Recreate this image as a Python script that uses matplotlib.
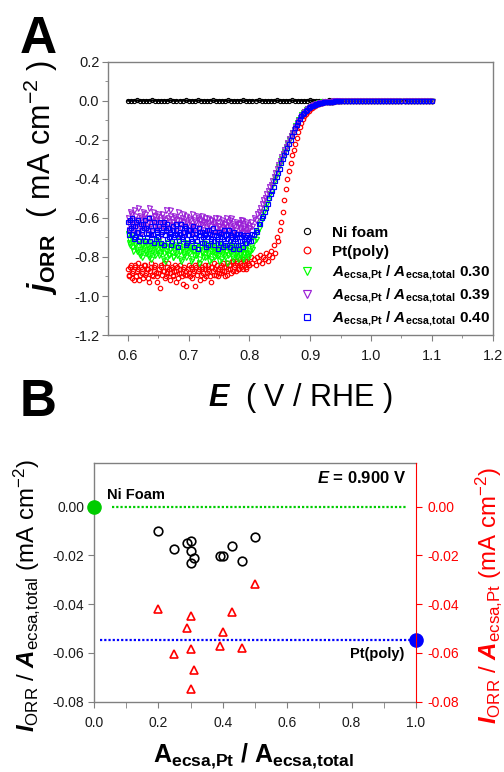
"""
plot.py
-------
ORR polarisation curves (A) and normalised ORR current vs Pt area fraction (B).
"""
import matplotlib
matplotlib.use("Agg")
import matplotlib.pyplot as plt  # noqa: E402
import numpy as np  # noqa: E402
from matplotlib.ticker import MultipleLocator  # noqa: E402

plt.rcParams["font.family"] = ["Liberation Sans", "DejaVu Sans"]
plt.rcParams["mathtext.fontset"] = "custom"
plt.rcParams["mathtext.rm"] = "Liberation Sans"
plt.rcParams["mathtext.it"] = "Liberation Sans:italic"
plt.rcParams["mathtext.bf"] = "Liberation Sans:bold"
plt.rcParams["mathtext.bfit"] = "Liberation Sans:italic:bold"

# ── Panel A data ─────────────────────────────────────────────────────────────
# sweep grids: 2.5 mV steps up to 0.9475 V, 5 mV on the flat part;
# the noisy plateau was recorded twice (second scan offset by 1.25 mV)
E_LOW = np.round(np.arange(0.600, 0.7999, 0.0025), 4)    # 80 pts
E_LOW2 = np.round(E_LOW + 0.00125, 5)                     # 80 pts
E_RISE = np.round(np.arange(0.800, 0.9499, 0.0025), 4)   # 60 pts
E_FLAT = np.round(np.arange(0.950, 1.1001, 0.005), 3)    # 31 pts
E_NI = np.round(np.arange(0.600, 1.1001, 0.005), 3)      # 101 pts

ni_j = [0.001, 0.000, 0.001, 0.002, 0.000, 0.001, 0.000, 0.001, 0.002, 0.001,
        0.000, 0.001, 0.001, 0.000, 0.002, 0.001, 0.000, 0.001, 0.001, 0.002,
        0.000, 0.001, 0.000, 0.002, 0.001, 0.001, 0.000, 0.001, 0.002, 0.000,
        0.001, 0.001, 0.000, 0.002, 0.001, 0.000, 0.001, 0.001, 0.002, 0.000,
        0.001, 0.000, 0.001, 0.002, 0.001, 0.000, 0.001, 0.001, 0.000, 0.002,
        0.001, 0.000, 0.001, 0.001, 0.002, 0.000, 0.001, 0.001, 0.000, 0.001,
        0.002, 0.001, 0.000, 0.001, 0.001, 0.000, 0.002, 0.001, 0.001, 0.000,
        0.001, 0.000, 0.001, 0.001, 0.000, 0.001, 0.001, 0.000, 0.001, 0.000,
        0.001, 0.000, 0.001, 0.000, 0.001, 0.000, 0.000, 0.001, 0.000, 0.001,
        0.000, 0.001, 0.000, 0.000, 0.001, 0.000, 0.001, 0.000, 0.000, 0.001,
        0.000]

pt_low = [-0.86, -0.90, -0.84, -0.88, -0.92, -0.85, -0.87, -0.83, -0.89, -0.86,
          -0.91, -0.84, -0.88, -0.86, -0.93, -0.85, -0.89, -0.87, -0.84, -0.90,
          -0.88, -0.96, -0.85, -0.87, -0.83, -0.90, -0.88, -0.86, -0.92, -0.85,
          -0.89, -0.84, -0.87, -0.91, -0.86, -0.88, -0.94, -0.85, -0.87, -0.89,
          -0.84, -0.90, -0.86, -0.88, -0.95, -0.85, -0.87, -0.83, -0.89, -0.86,
          -0.91, -0.84, -0.88, -0.86, -0.90, -0.85, -0.87, -0.83, -0.89, -0.86,
          -0.88, -0.84, -0.87, -0.85, -0.90, -0.83, -0.86, -0.84, -0.88, -0.82,
          -0.85, -0.87, -0.83, -0.86, -0.81, -0.84, -0.86, -0.82, -0.85, -0.83]
pt_low2 = [-0.89, -0.85, -0.91, -0.87, -0.84, -0.90, -0.86, -0.92, -0.85, -0.88,
           -0.84, -0.89, -0.86, -0.91, -0.87, -0.83, -0.90, -0.85, -0.88, -0.93,
           -0.86, -0.84, -0.89, -0.87, -0.91, -0.85, -0.83, -0.88, -0.86, -0.90,
           -0.87, -0.93, -0.85, -0.88, -0.84, -0.90, -0.86, -0.89, -0.95, -0.86,
           -0.88, -0.85, -0.91, -0.87, -0.84, -0.89, -0.86, -0.92, -0.85, -0.88,
           -0.86, -0.90, -0.84, -0.87, -0.93, -0.85, -0.89, -0.86, -0.84, -0.90,
           -0.85, -0.88, -0.83, -0.87, -0.85, -0.89, -0.84, -0.86, -0.82, -0.87,
           -0.84, -0.82, -0.86, -0.83, -0.85, -0.81, -0.84, -0.86, -0.82, -0.84]
pt_rise = [-0.84, -0.80, -0.83, -0.81, -0.84, -0.80, -0.82, -0.79, -0.83, -0.80,
           -0.81, -0.78, -0.82, -0.79, -0.77, -0.80, -0.74, -0.78, -0.70, -0.72,
           -0.66, -0.62, -0.57, -0.51, -0.45, -0.40, -0.36, -0.32, -0.28, -0.25,
           -0.22, -0.19, -0.16, -0.135, -0.115, -0.095, -0.08, -0.067, -0.057, -0.05,
           -0.043, -0.036, -0.030, -0.025, -0.021, -0.017, -0.014, -0.012, -0.010, -0.008,
           -0.007, -0.006, -0.005, -0.005, -0.004, -0.004, -0.003, -0.003, -0.002, -0.002]

r30_low = [-0.68, -0.73, -0.70, -0.75, -0.71, -0.74, -0.77, -0.72, -0.79, -0.74,
           -0.76, -0.72, -0.78, -0.75, -0.80, -0.73, -0.77, -0.74, -0.79, -0.76,
           -0.72, -0.78, -0.75, -0.81, -0.74, -0.77, -0.73, -0.79, -0.76, -0.75,
           -0.80, -0.74, -0.78, -0.72, -0.77, -0.82, -0.75, -0.79, -0.76, -0.73,
           -0.78, -0.75, -0.81, -0.77, -0.74, -0.79, -0.76, -0.83, -0.75, -0.78,
           -0.73, -0.80, -0.76, -0.78, -0.74, -0.81, -0.77, -0.75, -0.79, -0.76,
           -0.82, -0.74, -0.78, -0.76, -0.80, -0.75, -0.79, -0.77, -0.74, -0.81,
           -0.76, -0.78, -0.80, -0.75, -0.79, -0.77, -0.81, -0.76, -0.78, -0.80]
r30_low2 = [-0.71, -0.74, -0.69, -0.77, -0.73, -0.76, -0.72, -0.78, -0.75, -0.80,
            -0.73, -0.77, -0.74, -0.79, -0.76, -0.81, -0.74, -0.78, -0.75, -0.72,
            -0.79, -0.76, -0.74, -0.78, -0.82, -0.75, -0.79, -0.76, -0.73, -0.80,
            -0.77, -0.75, -0.79, -0.74, -0.81, -0.76, -0.78, -0.73, -0.80, -0.77,
            -0.75, -0.82, -0.76, -0.79, -0.74, -0.78, -0.81, -0.75, -0.77, -0.80,
            -0.76, -0.74, -0.79, -0.82, -0.77, -0.75, -0.80, -0.78, -0.74, -0.79,
            -0.77, -0.81, -0.75, -0.79, -0.77, -0.83, -0.76, -0.78, -0.80, -0.75,
            -0.79, -0.77, -0.81, -0.78, -0.76, -0.80, -0.78, -0.74, -0.79, -0.77]
r30_rise = [-0.78, -0.75, -0.76, -0.72, -0.71, -0.67, -0.65, -0.62, -0.60, -0.57,
            -0.55, -0.53, -0.51, -0.48, -0.46, -0.43, -0.41, -0.39, -0.37, -0.34,
            -0.32, -0.30, -0.28, -0.26, -0.24, -0.22, -0.20, -0.18, -0.165, -0.15,
            -0.13, -0.115, -0.10, -0.088, -0.075, -0.065, -0.056, -0.048, -0.041, -0.035,
            -0.030, -0.026, -0.022, -0.019, -0.016, -0.013, -0.011, -0.010, -0.008, -0.007,
            -0.006, -0.005, -0.005, -0.004, -0.004, -0.003, -0.003, -0.002, -0.002, -0.002]

r39_low = [-0.60, -0.66, -0.58, -0.63, -0.56, -0.65, -0.61, -0.68, -0.59, -0.64,
           -0.57, -0.62, -0.66, -0.60, -0.55, -0.63, -0.67, -0.59, -0.62, -0.65,
           -0.58, -0.61, -0.69, -0.60, -0.64, -0.56, -0.63, -0.66, -0.59, -0.62,
           -0.67, -0.60, -0.64, -0.57, -0.61, -0.65, -0.62, -0.68, -0.59, -0.63,
           -0.66, -0.61, -0.58, -0.64, -0.62, -0.69, -0.60, -0.65, -0.63, -0.59,
           -0.66, -0.62, -0.67, -0.60, -0.64, -0.61, -0.68, -0.63, -0.65, -0.60,
           -0.64, -0.67, -0.61, -0.66, -0.63, -0.69, -0.62, -0.65, -0.60, -0.67,
           -0.64, -0.62, -0.68, -0.63, -0.66, -0.61, -0.65, -0.67, -0.63, -0.66]
r39_low2 = [-0.63, -0.57, -0.61, -0.66, -0.59, -0.62, -0.55, -0.64, -0.60, -0.67,
            -0.61, -0.58, -0.65, -0.62, -0.68, -0.60, -0.57, -0.64, -0.61, -0.59,
            -0.66, -0.63, -0.58, -0.65, -0.61, -0.67, -0.60, -0.56, -0.64, -0.62,
            -0.59, -0.66, -0.61, -0.69, -0.63, -0.60, -0.58, -0.65, -0.62, -0.66,
            -0.60, -0.64, -0.67, -0.61, -0.65, -0.59, -0.63, -0.61, -0.68, -0.62,
            -0.60, -0.65, -0.63, -0.68, -0.61, -0.66, -0.62, -0.60, -0.67, -0.64,
            -0.68, -0.62, -0.65, -0.63, -0.60, -0.66, -0.64, -0.61, -0.68, -0.63,
            -0.66, -0.69, -0.63, -0.65, -0.61, -0.67, -0.64, -0.62, -0.68, -0.65]
r39_rise = [-0.65, -0.62, -0.64, -0.60, -0.61, -0.58, -0.57, -0.55, -0.53, -0.51,
            -0.50, -0.48, -0.46, -0.44, -0.43, -0.41, -0.39, -0.37, -0.35, -0.33,
            -0.31, -0.29, -0.27, -0.25, -0.235, -0.215, -0.195, -0.18, -0.165, -0.15,
            -0.135, -0.12, -0.105, -0.09, -0.078, -0.067, -0.058, -0.05, -0.043, -0.037,
            -0.032, -0.027, -0.023, -0.02, -0.017, -0.014, -0.012, -0.010, -0.009, -0.007,
            -0.006, -0.005, -0.005, -0.004, -0.004, -0.003, -0.003, -0.002, -0.002, -0.002]

r40_low = [-0.62, -0.69, -0.65, -0.60, -0.71, -0.64, -0.67, -0.61, -0.70, -0.66,
           -0.63, -0.72, -0.65, -0.68, -0.60, -0.69, -0.66, -0.73, -0.64, -0.67,
           -0.70, -0.62, -0.68, -0.65, -0.74, -0.66, -0.63, -0.70, -0.67, -0.72,
           -0.64, -0.69, -0.66, -0.75, -0.68, -0.63, -0.71, -0.67, -0.65, -0.73,
           -0.69, -0.66, -0.72, -0.64, -0.70, -0.68, -0.76, -0.65, -0.71, -0.67,
           -0.73, -0.69, -0.66, -0.74, -0.68, -0.71, -0.65, -0.72, -0.69, -0.76,
           -0.67, -0.73, -0.70, -0.66, -0.74, -0.71, -0.68, -0.75, -0.69, -0.72,
           -0.67, -0.74, -0.70, -0.76, -0.68, -0.72, -0.69, -0.73, -0.70, -0.71]
r40_low2 = [-0.66, -0.61, -0.68, -0.64, -0.70, -0.62, -0.67, -0.72, -0.63, -0.68,
            -0.65, -0.61, -0.70, -0.66, -0.72, -0.64, -0.68, -0.62, -0.71, -0.66,
            -0.64, -0.73, -0.67, -0.62, -0.69, -0.71, -0.65, -0.68, -0.74, -0.66,
            -0.70, -0.63, -0.68, -0.72, -0.65, -0.70, -0.67, -0.64, -0.74, -0.69,
            -0.66, -0.71, -0.68, -0.75, -0.66, -0.72, -0.69, -0.67, -0.73, -0.70,
            -0.68, -0.75, -0.70, -0.66, -0.72, -0.69, -0.74, -0.67, -0.71, -0.70,
            -0.73, -0.68, -0.75, -0.71, -0.69, -0.74, -0.66, -0.72, -0.70, -0.76,
            -0.71, -0.68, -0.74, -0.72, -0.70, -0.75, -0.71, -0.73, -0.69, -0.72]
r40_rise = [-0.70, -0.72, -0.68, -0.69, -0.66, -0.67, -0.63, -0.63, -0.60, -0.59,
            -0.57, -0.55, -0.53, -0.50, -0.48, -0.46, -0.44, -0.41, -0.39, -0.37,
            -0.35, -0.32, -0.30, -0.28, -0.26, -0.24, -0.22, -0.20, -0.18, -0.16,
            -0.14, -0.125, -0.11, -0.095, -0.08, -0.07, -0.06, -0.052, -0.045, -0.039,
            -0.034, -0.029, -0.025, -0.021, -0.018, -0.015, -0.013, -0.011, -0.009, -0.008,
            -0.007, -0.006, -0.005, -0.005, -0.004, -0.004, -0.003, -0.003, -0.002, -0.002]

j_flat = [-0.002, -0.002, -0.001, -0.001, -0.001, -0.001, -0.001, 0.000, 0.000, 0.000,
          0.000, 0.000, 0.000, 0.000, 0.000, 0.000, 0.000, 0.000, 0.000, 0.000,
          0.000, 0.000, 0.000, 0.000, 0.000, 0.000, 0.000, 0.000, 0.000, 0.000, 0.001]

# ── Panel B data (E = 0.900 V) ───────────────────────────────────────────────
pt_frac = [0.20, 0.25, 0.29, 0.30, 0.30, 0.31, 0.30, 0.39, 0.40, 0.43, 0.46, 0.50]
i_per_total = [-0.0102, -0.0172, -0.0150, -0.0141, -0.0182, -0.0212, -0.0233,
               -0.0202, -0.0202, -0.0161, -0.0221, -0.0126]
i_per_pt = [-0.0418, -0.0605, -0.0497, -0.0450, -0.0582, -0.0669, -0.0747,
            -0.0572, -0.0513, -0.0434, -0.0579, -0.0318]
ref_frac = [0.0, 1.0]              # Ni foam, Pt(poly)
ref_current = [0.0, -0.0546]

GRAY = "#808080"
INK = "#1a1a1a"
RATIO_LABEL = r"$\mathbfit{A}_{\mathbf{ecsa{,}Pt}}$ / $\mathbfit{A}_{\mathbf{ecsa{,}total}}$ "


def _style_axis(ax, color=GRAY):
    for sp in ax.spines.values():
        sp.set_color(color)
        sp.set_linewidth(1.0)
    ax.tick_params(which="both", direction="out", color=color, labelcolor=INK)


fig = plt.figure(figsize=(5.04, 7.72), dpi=100)

# ── A ────────────────────────────────────────────────────────────────────────
axA = fig.add_axes([0.215, 0.566, 0.7626, 0.354])
E_scan = np.concatenate([E_LOW, E_RISE, E_FLAT])

series = [
    ("Pt(poly)", pt_low, pt_low2, pt_rise, "o", "#ff0000", 3.2),
    (RATIO_LABEL + "0.30", r30_low, r30_low2, r30_rise, "v", "#00ff00", 3.6),
    (RATIO_LABEL + "0.39", r39_low, r39_low2, r39_rise, "v", "#9a1fd6", 3.6),
    (RATIO_LABEL + "0.40", r40_low, r40_low2, r40_rise, "s", "#0000ff", 3.0),
]

handles = []
axA.plot(E_NI, ni_j, ls="-", lw=1.6, color="black", marker=None)
h, = axA.plot(E_NI, ni_j, ls="none", marker="o", ms=3.0, mfc="none",
              mec="black", mew=0.8, label="Ni foam")
handles.append(h)
for label, j_low, j_low2, j_rise, mk, col, ms in series:
    h, = axA.plot(E_scan, j_low + j_rise + j_flat, ls="none", marker=mk, ms=ms,
                  mfc="none", mec=col, mew=0.85, label=label)
    axA.plot(E_LOW2, j_low2, ls="none", marker=mk, ms=ms,
             mfc="none", mec=col, mew=0.85)
    handles.append(h)

axA.set_xlim(0.568, 1.2)
axA.set_ylim(-1.2, 0.2)
axA.xaxis.set_major_locator(MultipleLocator(0.1))
axA.xaxis.set_minor_locator(MultipleLocator(0.05))
axA.yaxis.set_major_locator(MultipleLocator(0.2))
axA.yaxis.set_minor_locator(MultipleLocator(0.1))
axA.set_xticks([0.6, 0.7, 0.8, 0.9, 1.0, 1.1, 1.2])
axA.xaxis.set_major_formatter(plt.FuncFormatter(lambda v, _: f"{v:.1f}"))
axA.yaxis.set_major_formatter(plt.FuncFormatter(lambda v, _: f"{v:.1f}"))
_style_axis(axA)
axA.tick_params(which="major", length=4, labelsize=10.5)
axA.tick_params(which="minor", length=2.5)
axA.tick_params(axis="x", pad=6)
axA.tick_params(axis="y", pad=2.5)

axA.legend(handles=handles, loc="upper left", bbox_to_anchor=(0.497, 0.40),
           frameon=False, markerscale=1.5, handlelength=1.0,
           handletextpad=1.15, labelspacing=0.32, borderpad=0,
           borderaxespad=0, prop={"size": 11, "weight": "bold"})

fig.text(20 / 504, 1 - 53 / 772, "A", fontsize=37, fontweight="bold",
         va="baseline", ha="left")
fig.text(41 / 504, 1 - 177 / 772,
         r"$\mathbfit{j}_{\mathbf{ORR}}$  ( mA cm$^{-2}$ )",
         fontsize=22, rotation=90, ha="center", va="center")
fig.text(300 / 504, 1 - 406 / 772, r"$\mathbfit{E}$  ( V / RHE )",
         fontsize=22, ha="center", va="baseline")

# ── B ────────────────────────────────────────────────────────────────────────
fig.text(20 / 504, 1 - 416 / 772, "B", fontsize=37, fontweight="bold",
         va="baseline", ha="left")

axB = fig.add_axes([0.1865, 0.0911, 0.6389, 0.3095])
axB.hlines(ref_current[0], 0.057, 0.969, colors="#00cc00", lw=1.6,
           linestyles=(0, (1, 0.9)))
axB.hlines(ref_current[1], 0.018, 0.99, colors="#0000ff", lw=1.6,
           linestyles=(0, (1, 0.9)))
axB.plot(ref_frac[:1], ref_current[:1], "o", ms=9.5, color="#00cc00",
         clip_on=False, zorder=5)
axB.plot(ref_frac[1:], ref_current[1:], "o", ms=9.5, color="#0000ff",
         clip_on=False, zorder=5)
axB.plot(pt_frac, i_per_total, ls="none", marker="o", ms=6.2, mfc="none",
         mec="black", mew=1.2)

axB.set_xlim(0, 1.0)
axB.set_ylim(-0.08, 0.018)
axB.xaxis.set_major_locator(MultipleLocator(0.2))
axB.xaxis.set_minor_locator(MultipleLocator(0.1))
axB.yaxis.set_major_locator(MultipleLocator(0.02))
axB.xaxis.set_major_formatter(plt.FuncFormatter(lambda v, _: f"{v:.1f}"))
axB.yaxis.set_major_formatter(plt.FuncFormatter(lambda v, _: f"{v:.2f}"))
_style_axis(axB)
axB.spines["right"].set_visible(False)
axB.tick_params(which="both", length=4.5, labelsize=10)
axB.tick_params(axis="x", pad=6)
axB.tick_params(axis="y", pad=2.5)

axR = axB.twinx()
axR.plot(pt_frac, i_per_pt, ls="none", marker="^", ms=6.2, mfc="none",
         mec="#ff0000", mew=1.2)
axR.set_ylim(-0.08, 0.018)
axR.yaxis.set_major_locator(MultipleLocator(0.02))
axR.yaxis.set_major_formatter(plt.FuncFormatter(lambda v, _: f"{v:.2f}"))
for name, sp in axR.spines.items():
    sp.set_visible(name == "right")
axR.spines["right"].set_color("#ff0000")
axR.tick_params(axis="y", direction="out", length=4.5, color="#ff0000",
                labelcolor="#ff0000", labelsize=10, pad=4)

axB.text(0.041, 0.0046, "Ni Foam", fontsize=10.5, fontweight="bold",
         ha="left", va="center")
axB.text(0.964, -0.0605, "Pt(poly)", fontsize=10.5, fontweight="bold",
         ha="right", va="center")
axB.text(0.969, 0.0116, r"$\mathbfit{E}$ = 0.900 V", fontsize=12,
         fontweight="bold", ha="right", va="center")

fig.text(27 / 504, 1 - 596 / 772,
         r"$\mathbfit{I}_{\mathrm{ORR}}$ / $\mathbfit{A}_{\mathrm{ecsa{,}total}}$ (mA cm$^{-2}$)",
         fontsize=17.3, rotation=90, ha="center", va="center")
fig.text(488 / 504, 1 - 596 / 772,
         r"$\mathbfit{I}_{\mathrm{ORR}}$ / $\mathbfit{A}_{\mathrm{ecsa{,}Pt}}$ (mA cm$^{-2}$)",
         fontsize=17.3, rotation=90, ha="center", va="center", color="#ff0000")
fig.text(253 / 504, 1 - 762 / 772,
         r"$\mathbf{A}_{\mathbf{ecsa{,}Pt}}$ / $\mathbf{A}_{\mathbf{ecsa{,}total}}$",
         fontsize=18, fontweight="bold", ha="center", va="baseline")

fig.savefig("out.png", dpi=100)
